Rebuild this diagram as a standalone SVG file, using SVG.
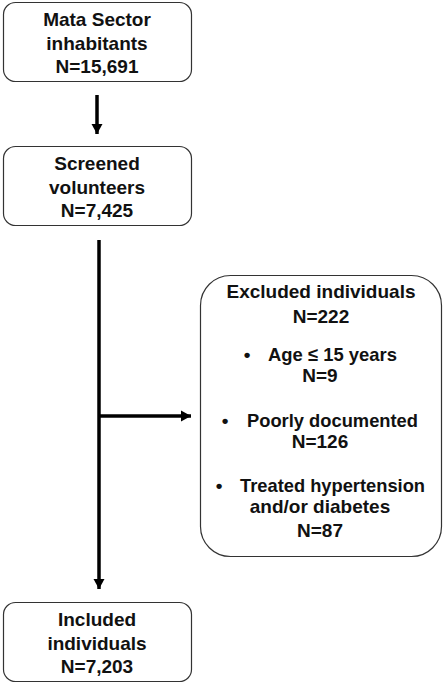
<svg xmlns="http://www.w3.org/2000/svg" width="444" height="685" viewBox="0 0 444 685">
<style>
.box{fill:#fff;stroke:#333;stroke-width:1.2}
.t{font-family:"Liberation Sans",Arial,Helvetica,sans-serif;font-weight:bold;font-size:19px;fill:#111;text-anchor:middle}
.s{text-anchor:start}
.c{stroke:#000;stroke-width:3.5;fill:none}
</style>
<defs>
<marker id="ah" markerUnits="userSpaceOnUse" markerWidth="12" markerHeight="12" refX="10" refY="6" orient="auto">
<path d="M0,0.5 L10,6 L0,11.5 Z" fill="#000"/>
</marker>
</defs>
<rect width="444" height="685" fill="#fff"/>
<g id="connectors">
<line class="c" x1="97" y1="95" x2="97" y2="134" marker-end="url(#ah)"/>
<line class="c" x1="99" y1="240" x2="99" y2="589" marker-end="url(#ah)"/>
<line class="c" x1="99" y1="416" x2="191" y2="416" marker-end="url(#ah)"/>
</g>
<g id="n1">
<rect class="box" x="3.5" y="2.5" width="188" height="79" rx="12"/>
<text class="t" x="97" y="26">Mata Sector</text>
<text class="t" x="97" y="49.5">inhabitants</text>
<text class="t" x="97" y="73">N=15,691</text>
</g>
<g id="n2">
<rect class="box" x="3.5" y="146.5" width="188" height="79" rx="12"/>
<text class="t" x="97" y="170">Screened</text>
<text class="t" x="97" y="193.5">volunteers</text>
<text class="t" x="97" y="217">N=7,425</text>
</g>
<g id="n3">
<rect class="box" x="200.5" y="275.5" width="241" height="281" rx="30"/>
<text class="t" x="321" y="298">Excluded individuals</text>
<text class="t" x="321" y="323">N=222</text>
<text class="t" x="247" y="361">•</text>
<text class="t s" x="268" y="361" textLength="129" lengthAdjust="spacingAndGlyphs">Age ≤ 15 years</text>
<text class="t" x="320" y="382">N=9</text>
<text class="t" x="225" y="427">•</text>
<text class="t s" x="247" y="427" textLength="171" lengthAdjust="spacingAndGlyphs">Poorly documented</text>
<text class="t" x="320" y="448">N=126</text>
<text class="t" x="219" y="492">•</text>
<text class="t s" x="240" y="492" textLength="185" lengthAdjust="spacingAndGlyphs">Treated hypertension</text>
<text class="t" x="320" y="513">and/or diabetes</text>
<text class="t" x="320" y="537">N=87</text>
</g>
<g id="n4">
<rect class="box" x="3.5" y="602.5" width="188" height="79" rx="12"/>
<text class="t" x="97" y="626">Included</text>
<text class="t" x="97" y="649.5">individuals</text>
<text class="t" x="97" y="673">N=7,203</text>
</g>
</svg>
